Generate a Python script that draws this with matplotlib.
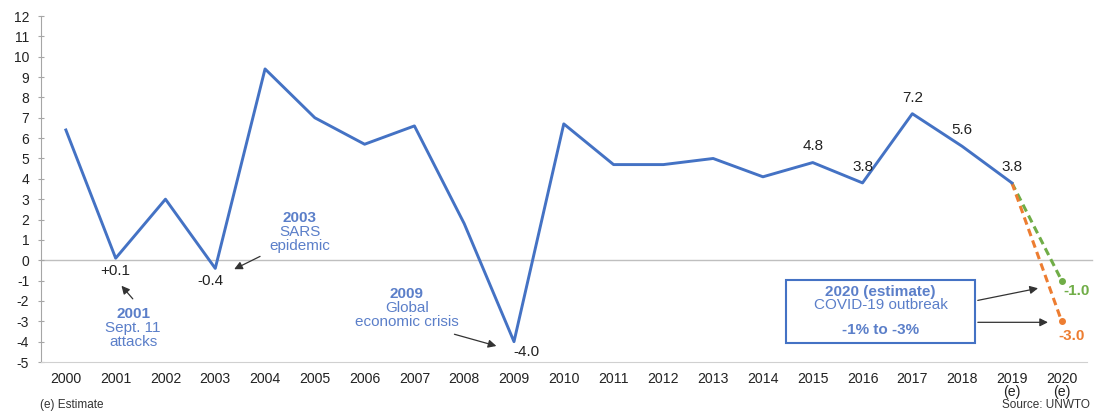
import matplotlib
matplotlib.use("Agg")
import matplotlib.pyplot as plt
from matplotlib.patches import Rectangle

plt.rcParams['font.family'] = ['Liberation Sans', 'DejaVu Sans']
plt.rcParams['axes.unicode_minus'] = False

years = list(range(2000, 2020))
growth = [6.4, 0.1, 3.0, -0.4, 9.4, 7.0, 5.7, 6.6, 1.8, -4.0, 6.7, 4.7, 4.7, 5.0, 4.1, 4.8, 3.8, 7.2, 5.6, 3.8]
est_years = [2019, 2020]
est_high = [3.8, -1.0]
est_low = [3.8, -3.0]
tick_years = list(range(2000, 2021))
tick_labels = [str(y) for y in range(2000, 2019)] + ["2019\n(e)", "2020\n(e)"]
value_labels = {2015: "4.8", 2016: "3.8", 2017: "7.2", 2018: "5.6", 2019: "3.8"}

BLUE = "#4472C4"
TXT_BLUE = "#5B7FC9"
GREEN = "#70AD47"
ORANGE = "#ED7D31"
GRAY = "#A6A6A6"
FS = 11

fig = plt.figure(figsize=(10.96, 4.15), dpi=100)
ax = fig.add_axes([0.0374, 0.1277, 0.954, 0.8337])

ax.axhline(0, color="#BFBFBF", lw=1.0, zorder=1, clip_on=False, xmax=1.005)
ax.plot(years, growth, color=BLUE, lw=2.1, zorder=3)
ax.plot(est_years, est_high, color=GREEN, lw=2.2, ls=(0, (2.5, 1.5)), zorder=2)
ax.plot(est_years, est_low, color=ORANGE, lw=2.2, ls=(0, (2.5, 1.5)), zorder=2)
ax.plot([2020], [est_high[1]], 'o', color=GREEN, ms=4, zorder=4)
ax.plot([2020], [est_low[1]], 'o', color=ORANGE, ms=4, zorder=4)

ax.set_xlim(1999.5, 2020.5)
ax.set_ylim(-5, 12)
ax.set_yticks(range(-5, 13))
ax.set_xticks(tick_years)
ax.set_xticklabels(tick_labels, fontsize=10.2, color="#222222", linespacing=0.95)
ax.tick_params(axis='y', labelsize=10, labelcolor="#222222", direction='inout', length=5, color=GRAY, pad=6)
ax.tick_params(axis='x', length=0, pad=7)
for s in ['top', 'right']:
    ax.spines[s].set_visible(False)
ax.spines['left'].set_color(GRAY)
ax.spines['bottom'].set_color("#D0D0D0")

# value labels
for y, t in value_labels.items():
    v = growth[years.index(y)]
    ax.text(y, v + 0.45, t, ha='center', va='bottom', fontsize=FS, color="#222222")
ax.text(2001, -0.2, "+0.1", ha='center', va='top', fontsize=FS, color="#222222")
ax.text(2002.9, -0.7, "-0.4", ha='center', va='top', fontsize=FS, color="#222222")
ax.text(2009.25, -4.15, "-4.0", ha='center', va='top', fontsize=FS, color="#222222")
ax.text(2020.3, -1.5, "-1.0", ha='center', va='center', fontsize=FS, color=GREEN, fontweight='bold')
ax.text(2020.2, -3.7, "-3.0", ha='center', va='center', fontsize=FS, color=ORANGE, fontweight='bold')

arrow = dict(arrowstyle='-|>', color="#333333", lw=0.9, mutation_scale=12)

# 2001
ax.text(2001.35, -2.65, "2001", ha='center', va='center', fontsize=FS, color=TXT_BLUE, fontweight='bold')
ax.text(2001.35, -3.34, "Sept. 11", ha='center', va='center', fontsize=FS, color=TXT_BLUE)
ax.text(2001.35, -4.03, "attacks", ha='center', va='center', fontsize=FS, color=TXT_BLUE)
ax.annotate("", xy=(2001.08, -1.15), xytext=(2001.38, -2.0), arrowprops=arrow)

# 2003
ax.text(2004.7, 2.1, "2003", ha='center', va='center', fontsize=FS, color=TXT_BLUE, fontweight='bold')
ax.text(2004.7, 1.41, "SARS", ha='center', va='center', fontsize=FS, color=TXT_BLUE)
ax.text(2004.7, 0.72, "epidemic", ha='center', va='center', fontsize=FS, color=TXT_BLUE)
ax.annotate("", xy=(2003.33, -0.5), xytext=(2003.95, 0.25), arrowprops=arrow)

# 2009
ax.text(2006.85, -1.67, "2009", ha='center', va='center', fontsize=FS, color=TXT_BLUE, fontweight='bold')
ax.text(2006.85, -2.36, "Global", ha='center', va='center', fontsize=FS, color=TXT_BLUE)
ax.text(2006.85, -3.05, "economic crisis", ha='center', va='center', fontsize=FS, color=TXT_BLUE)
ax.annotate("", xy=(2008.7, -4.25), xytext=(2007.75, -3.6), arrowprops=arrow)

# COVID box
ax.add_patch(Rectangle((2014.46, -4.08), 3.8, 3.1, fill=False, edgecolor=BLUE, lw=1.5, zorder=5))
ax.text(2016.36, -1.58, "2020 (estimate)", ha='center', va='center', fontsize=FS, color=TXT_BLUE, fontweight='bold')
ax.text(2016.36, -2.2, "COVID-19 outbreak", ha='center', va='center', fontsize=FS, color=TXT_BLUE)
ax.text(2016.36, -3.45, "-1% to -3%", ha='center', va='center', fontsize=FS, color=TXT_BLUE, fontweight='bold')
ax.annotate("", xy=(2019.58, -1.35), xytext=(2018.26, -2.0), arrowprops=arrow)
ax.annotate("", xy=(2019.78, -3.05), xytext=(2018.26, -3.05), arrowprops=arrow)

fig.text(40/1096, 1 - 405/415, "(e) Estimate", ha='left', va='center', fontsize=8.5, color="#333333")
fig.text(1090/1096, 1 - 405/415, "Source: UNWTO", ha='right', va='center', fontsize=8.5, color="#333333")

fig.savefig("out.png", dpi=100)
